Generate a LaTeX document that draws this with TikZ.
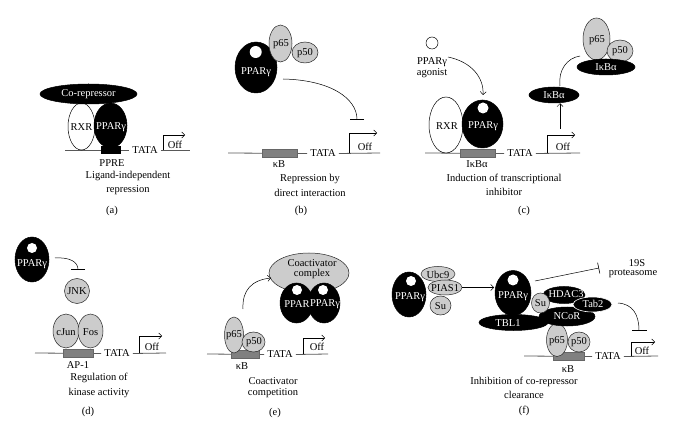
\documentclass[tikz,border=0pt]{standalone}
\usepackage{fontspec}
\setmainfont{Liberation Serif}
\usetikzlibrary{shapes.geometric,arrows.meta}
\begin{document}
\begin{tikzpicture}[x=1pt,y=-1pt,
  font=\fontsize{10.5}{12}\selectfont,
  every node/.style={inner sep=0pt},
  sz/.style 2 args={minimum width=#1pt, minimum height=#2pt},
  ell/.style={ellipse, inner sep=0pt, line width=0.5pt},
  blk/.style={ell, draw=black, fill=black},
  wht/.style={ell, draw=black, fill=white},
  gry/.style={ell, draw=black!85, fill=gray!40},
  blkw/.style={ell, draw=white, fill=black, line width=0.6pt},
  hole/.style={circle, fill=white, inner sep=0pt},
  wtxt/.style={text=white},
  tata/.style={inner xsep=3pt},
  dna/.style={draw=black!65, line width=0.8pt},
  site/.style={fill=black!50, draw=black!60, line width=0.3pt, minimum height=8pt, inner sep=0pt},
  prom/.style={draw=black, line width=0.5pt, -{Straight Barb[length=3pt,width=6pt]}},
  arr/.style={draw=black, line width=0.5pt, -{Straight Barb[length=3pt,width=6pt]}},
  inh/.style={draw=black, line width=0.5pt, -{Bar[width=14pt,line width=0.6pt]}},
]
\useasboundingbox (0,0) rectangle (690,427);
\fill[white] (0,0) rectangle (690,427);

% ================= (a) =================
\coordinate (a-l) at (65,150);
\coordinate (a-r) at (190,150);
\node[tata] (a-tata) at (145,150) {TATA};
\draw[dna] (a-l) -- (a-tata.west);
\draw[dna] (a-tata.east) -- (a-r);
\node[fill=black, sz={20}{8}] (a-ppre) at (111,150) {};
\node[wht, sz={27}{47}] (a-rxr) at (81.5,126.5) {};
\node (a-rxrt) at (81.5,127) {RXR};
\node[blk, sz={33}{45}] (a-ppar) at (110.5,125.5) {};
\node[wtxt] (a-part) at (111,127) {PPARγ};
\node[blk, sz={97}{20}] (a-cor) at (88.5,94) {};
\node[wtxt] (a-cort) at (88.5,94) {Co-repressor};
\coordinate (a-p0) at (163,150);
\coordinate (a-p1) at (163,135);
\coordinate (a-p2) at (185,135);
\draw[prom] (a-p0) -- (a-p1) -- (a-p2);
\node (a-off) at (175,144.5) {Off};
\node (a-pprel) at (112,163) {PPRE};
\node (a-t1) at (128,176) {Ligand-independent};
\node (a-t2) at (128,190.5) {repression};
\node (a-cap) at (112,211) {(a)};

% ================= (b) =================
\coordinate (b-l) at (228,153);
\coordinate (b-r) at (380,153);
\node[tata] (b-tata) at (323,153.5) {TATA};
\draw[dna] (b-l) -- (b-tata.west);
\draw[dna] (b-tata.east) -- (b-r);
\node[site, minimum width=35pt] (b-kb) at (279.5,153) {};
\node[blk, sz={42}{51}] (b-ppar) at (256,67.5) {};
\node[hole, minimum size=12pt] (b-hole) at (255.7,52) {};
\node[wtxt] (b-part) at (256,72) {PPARγ};
\node[gry, sz={23}{37}] (b-p65) at (280.5,43.5) {};
\node (b-p65t) at (281,44) {p65};
\node[gry, sz={26}{21}] (b-p50) at (305,52.5) {};
\node (b-p50t) at (305,53) {p50};
\coordinate (b-c0) at (283,79);
\coordinate (b-c1) at (357,120);
\draw[inh] (b-c0) .. controls (330,80) and (357,98) .. (b-c1);
\coordinate (b-p0) at (349,153);
\coordinate (b-p1) at (349,133);
\coordinate (b-p2) at (377,133);
\draw[prom] (b-p0) -- (b-p1) -- (b-p2);
\node (b-off) at (365,147) {Off};
\node (b-kbl) at (279,164.5) {κB};
\node (b-t1) at (310,179) {Repression by};
\node (b-t2) at (310,193) {direct interaction};
\node (b-cap) at (301,211) {(b)};

% ================= (c) =================
\coordinate (c-l) at (425,153);
\coordinate (c-r) at (580,153);
\node[tata] (c-tata) at (520,153.5) {TATA};
\draw[dna] (c-l) -- (c-tata.west);
\draw[dna] (c-tata.east) -- (c-r);
\node[site, minimum width=35pt] (c-kb) at (477.5,153) {};
\node[wht, sz={34}{56}] (c-rxr) at (446,125) {};
\node (c-rxrt) at (447,126) {RXR};
\node[blk, sz={41}{48}] (c-ppar) at (482.5,124) {};
\node[hole, minimum size=11pt] (c-hole) at (483,108) {};
\node[wtxt] (c-part) at (483,126) {PPARγ};
\node[wht, circle, minimum size=12pt] (c-ag) at (432,43) {};
\node (c-agt1) at (432,62) {PPARγ};
\node (c-agt2) at (432,73) {agonist};
\coordinate (c-a0) at (448,57);
\coordinate (c-a1) at (483,95);
\draw[arr] (c-a0) .. controls (472,62) and (484,78) .. (c-a1);
\coordinate (c-p0) at (547,153);
\coordinate (c-p1) at (547,135);
\coordinate (c-p2) at (575,135);
\draw[prom] (c-p0) -- (c-p1) -- (c-p2);
\node (c-off) at (563,147) {Off};
\node[blk, sz={50}{16}] (c-ikb1) at (554,95) {};
\node[wtxt] (c-ikb1t) at (554,95) {IκBα};
\coordinate (c-u0) at (560,129);
\draw[arr] (c-u0) -- (c-ikb1.south -| c-u0);
\node[gry, sz={27}{42}] (c-p65) at (596.5,39) {};
\node (c-p65t) at (597,40) {p65};
\node[gry, sz={26}{22}] (c-p50) at (620,51) {};
\node (c-p50t) at (620,51.5) {p50};
\node[blk, sz={58}{16}] (c-ikb2) at (606,67) {};
\node[wtxt] (c-ikb2t) at (606,67) {IκBα};
\coordinate (c-k0) at (560,86);
\coordinate (c-k1) at (580,56);
\draw[draw=black, line width=0.5pt] (c-k0) .. controls (558,70) and (567,58) .. (c-k1);
\node (c-ikbl) at (477,164.5) {IκBα};
\node (c-t1) at (504,179) {Induction of transcriptional};
\node (c-t2) at (504,192) {inhibitor};
\node (c-cap) at (524,211) {(c)};

% ================= (d) =================
\coordinate (d-l) at (35,353);
\coordinate (d-r) at (166,353);
\node[tata] (d-tata) at (117,353.5) {TATA};
\draw[dna] (d-l) -- (d-tata.west);
\draw[dna] (d-tata.east) -- (d-r);
\node[site, minimum width=30pt] (d-ap) at (78,353) {};
\node[gry, sz={26}{34}] (d-jun) at (66,331) {};
\node (d-junt) at (66,332) {cJun};
\node[gry, sz={25}{34}] (d-fos) at (90.5,331) {};
\node (d-fost) at (90.5,332) {Fos};
\node[gry, circle, minimum size=25pt] (d-jnk) at (77,291) {};
\node (d-jnkt) at (77,291.5) {JNK};
\node[blk, sz={34}{45}] (d-ppar) at (32,259.5) {};
\node[hole, minimum size=10pt] (d-hole) at (32,248) {};
\node[wtxt] (d-part) at (32,264) {PPARγ};
\coordinate (d-c0) at (55,258);
\coordinate (d-c1) at (78,270);
\draw[inh] (d-c0) .. controls (70,257) and (78,262) .. (d-c1);
\coordinate (d-p0) at (139,353);
\coordinate (d-p1) at (139,336);
\coordinate (d-p2) at (162,336);
\draw[prom] (d-p0) -- (d-p1) -- (d-p2);
\node (d-off) at (152,347) {Off};
\node (d-apl) at (78,365) {AP-1};
\node (d-t1) at (99,378) {Regulation of};
\node (d-t2) at (99,393) {kinase activity};
\node (d-cap) at (88,412) {(d)};

% ================= (e) =================
\coordinate (e-l) at (207,354);
\coordinate (e-r) at (328,354);
\node[tata] (e-tata) at (280,354.5) {TATA};
\draw[dna] (e-l) -- (e-tata.west);
\draw[dna] (e-tata.east) -- (e-r);
\node[site, minimum width=28pt] (e-kb) at (245,354) {};
\node[gry, sz={19}{36}] (e-p65) at (234,335) {};
\node (e-p65t) at (234,335.5) {p65};
\node[gry, sz={23}{20}] (e-p50) at (253.5,342) {};
\node (e-p50t) at (254,342.5) {p50};
\node[gry, sz={80}{40}] (e-coa) at (309,273) {};
\node (e-coat1) at (312,263) {Coactivator};
\node (e-coat2) at (312,274) {complex};
\node[blk, sz={33}{40}] (e-ppar1) at (296.5,303) {};
\node[blk, sz={32}{40}] (e-ppar2) at (324,303) {};
\node[hole, minimum size=10pt] (e-hole1) at (297,290) {};
\node[hole, minimum size=10pt] (e-hole2) at (323,290) {};
\node[wtxt] (e-pt1) at (297,304) {PPAR};
\node[wtxt] (e-pt2) at (325,304) {PPARγ};
\coordinate (e-a0) at (243,309);
\coordinate (e-a1) at (271,278);
\draw[arr] (e-a0) .. controls (242,290) and (252,280) .. (e-a1);
\coordinate (e-p0) at (303,354);
\coordinate (e-p1) at (303,338);
\coordinate (e-p2) at (325,338);
\draw[prom] (e-p0) -- (e-p1) -- (e-p2);
\node (e-off) at (317,347) {Off};
\node (e-kbl) at (242,366.5) {κB};
\node (e-t1) at (273,381) {Coactivator};
\node (e-t2) at (273,393.5) {competition};
\node (e-cap) at (275,413) {(e)};

% ================= (f) =================
\coordinate (f-l) at (524,356);
\coordinate (f-r) at (658,356);
\node[tata] (f-tata) at (608,356.5) {TATA};
\draw[dna] (f-l) -- (f-tata.west);
\draw[dna] (f-tata.east) -- (f-r);
\node[site, minimum width=31pt] (f-kb) at (568.5,356) {};
% left complex
\node[blk, sz={34}{45}] (f-ppar1) at (409,294.5) {};
\node[hole, minimum size=10pt] (f-hole1) at (411,281) {};
\node[wtxt] (f-pt1) at (410,297.5) {PPARγ};
\node[gry, sz={34}{15}] (f-ubc) at (438,274) {};
\node (f-ubct) at (438,274.5) {Ubc9};
\node[gry, sz={34}{15}] (f-pias) at (445,287.5) {};
\node (f-piast) at (445,288) {PIAS1};
\node[gry, sz={21}{19}] (f-su1) at (440.5,305.5) {};
\node (f-su1t) at (440.5,306) {Su};
\draw[arr] (f-pias.east) -- (494,287.5) coordinate (f-ae);
% right complex
\node[blk, sz={36}{45}] (f-ppar2) at (513,293) {};
\node[hole, minimum size=11pt] (f-hole2) at (513,280) {};
\node[wtxt] (f-pt2) at (513,296) {PPARγ};
\node[gry, sz={21}{33}] (f-p65) at (557,340) {};
\node (f-p65t) at (557,341) {p65};
\node[gry, sz={22}{20}] (f-p50) at (579,342) {};
\node (f-p50t) at (579,342.5) {p50};
\node[blk, sz={69}{16}] (f-tbl) at (513.5,322.5) {};
\node[wtxt] (f-tblt) at (508,323) {TBL1};
\node[blk, sz={56}{19}] (f-ncor) at (567,316.5) {};
\node[wtxt] (f-ncort) at (567,316.5) {NCoR};
\node[blk, sz={42}{17}] (f-hdac) at (564,295) {};
\node[wtxt] (f-hdact) at (566,294.5) {HDAC3};
\node[gry, sz={18}{20}] (f-su2) at (540.5,303) {};
\node (f-su2t) at (540.5,303.5) {Su};
\node[blkw, sz={39}{15}] (f-tab) at (592.5,304.5) {};
\node[wtxt] (f-tabt) at (593,304) {Tab2};
\coordinate (f-i0) at (535,281);
\coordinate (f-i1) at (599,268);
\draw[inh, -{Bar[width=11pt,line width=0.6pt]}] (f-i0) -- (f-i1);
\node (f-19s) at (637,263) {19S};
\node (f-prot) at (633,274) {proteasome};
\coordinate (f-c0) at (618,303);
\coordinate (f-c1) at (639,331);
\draw[inh, -{Bar[width=15pt,line width=0.6pt]}] (f-c0) .. controls (633,304) and (639,315) .. (f-c1);
\coordinate (f-p0) at (631,356);
\coordinate (f-p1) at (631,342);
\coordinate (f-p2) at (655,342);
\draw[prom] (f-p0) -- (f-p1) -- (f-p2);
\node (f-off) at (642,351) {Off};
\node (f-kbl) at (568,369.5) {κB};
\node (f-t1) at (524,382) {Inhibition of co-repressor};
\node (f-t2) at (524,394.5) {clearance};
\node (f-cap) at (524,411) {(f)};
\end{tikzpicture}
\end{document}
